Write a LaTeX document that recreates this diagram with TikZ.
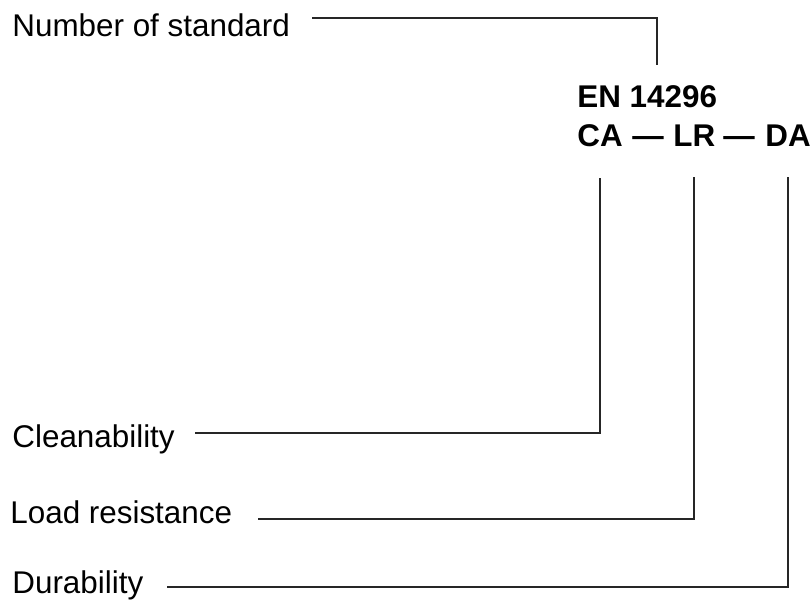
\documentclass[tikz,border=0pt]{standalone}
\usepackage{fontspec}
\setmainfont{Liberation Sans}
\usepackage{tikz}

\tikzset{
  lbl/.style={anchor=base west, inner sep=0pt, font=\fontsize{15.7}{18}\selectfont},
  code/.style={lbl, font=\fontsize{15.7}{18}\selectfont\bfseries},
  lead/.style={line width=1pt, black!85}
}

\begin{document}
\begin{tikzpicture}[x=0.5pt,y=-0.5pt]
    \useasboundingbox (0,0) rectangle (812,603);

    % Designation
    \node[code] (en) at (577,108) {EN 14296};
    \node[code] (ca) at (577,147) {CA};
    \node[code] (d1) at (632,147) {---};
    \node[code] (lr) at (673,147) {LR};
    \node[code] (d2) at (723,147) {---};
    \node[code] (da) at (765,147) {DA};

    % Labels
    \node[lbl] (num) at (12,37) {Number of standard};
    \node[lbl] (clean) at (12,447) {Cleanability};
    \node[lbl] (load) at (10,523) {Load resistance};
    \node[lbl] (dur) at (12,593) {Durability};

    % Ends of the leader lines
    \coordinate (numend) at (312,18);
    \coordinate (entop) at (657,65);
    \coordinate (cleanend) at (195,433);
    \coordinate (loadend) at (258,519);
    \coordinate (durend) at (167,587);

    % Leader lines
    \draw[lead] (numend) -| (entop);
    \draw[lead] (cleanend) -| ([yshift=-15pt]ca.south);
    \draw[lead] (loadend) -| ([yshift=-15pt]lr.south);
    \draw[lead] (durend) -| ([yshift=-15pt]da.south);
\end{tikzpicture}
\end{document}
